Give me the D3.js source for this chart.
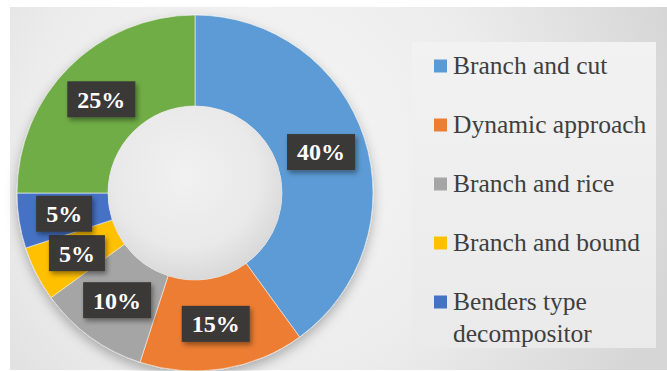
<!DOCTYPE html>
<html>
<head>
<meta charset="utf-8">
<script src="https://cdn.jsdelivr.net/npm/d3@7"></script>
<style>
  html, body { margin: 0; padding: 0; background: #ffffff; }
  svg { display: block; }
  .serif { font-family: "Liberation Serif", "DejaVu Serif", "Times New Roman", serif; }
</style>
</head>
<body>
<svg id="chart" width="667" height="371"></svg>
<script>
// Share of solution methods (percent)
const categories = ["Branch and cut", "Dynamic approach", "Branch and rice", "Branch and bound", "Benders type decompositor", "Other"];
const values = [40, 15, 10, 5, 5, 25];
const colors = ["#5b9bd5", "#ed7d31", "#a5a5a5", "#ffc000", "#4472c4", "#70ad47"];
// The legend box only holds the first five entries
const legendCount = 5;

const W = 667, H = 371;
const svg = d3.select("#chart");
const defs = svg.append("defs");

// Panel background: light grey with a soft bright glow behind the ring
const bg = defs.append("radialGradient").attr("id", "bgGrad")
  .attr("gradientUnits", "userSpaceOnUse")
  .attr("cx", 260).attr("cy", 150).attr("r", 430);
bg.append("stop").attr("offset", "0").attr("stop-color", "#f7f7f7");
bg.append("stop").attr("offset", "0.55").attr("stop-color", "#ececec");
bg.append("stop").attr("offset", "1").attr("stop-color", "#d6d6d6");

const legendGrad = defs.append("linearGradient").attr("id", "legGrad")
  .attr("x1", 0).attr("y1", 0).attr("x2", 0).attr("y2", 1);
legendGrad.append("stop").attr("offset", "0").attr("stop-color", "#f2f2f2");
legendGrad.append("stop").attr("offset", "1").attr("stop-color", "#eaeaea");

// Hole shading
const hole = defs.append("radialGradient").attr("id", "holeGrad")
  .attr("cx", "0.45").attr("cy", "0.4").attr("r", "0.6");
hole.append("stop").attr("offset", "0").attr("stop-color", "#f1f1f1");
hole.append("stop").attr("offset", "0.7").attr("stop-color", "#e9e9e9");
hole.append("stop").attr("offset", "1").attr("stop-color", "#d9d9d9");

// Soft shadows
const ringShadow = defs.append("filter").attr("id", "ringShadow")
  .attr("x", "-20%").attr("y", "-20%").attr("width", "140%").attr("height", "140%");
ringShadow.append("feDropShadow").attr("dx", 0).attr("dy", 5).attr("stdDeviation", 6)
  .attr("flood-color", "#000").attr("flood-opacity", 0.28);

const boxShadow = defs.append("filter").attr("id", "boxShadow")
  .attr("x", "-30%").attr("y", "-30%").attr("width", "170%").attr("height", "180%");
boxShadow.append("feDropShadow").attr("dx", 2).attr("dy", 3).attr("stdDeviation", 2.5)
  .attr("flood-color", "#000").attr("flood-opacity", 0.4);

// Panel
svg.append("rect").attr("x", 10).attr("y", 7).attr("width", W - 10).attr("height", 363)
  .attr("fill", "url(#bgGrad)");

// Legend panel
svg.append("rect").attr("x", 412).attr("y", 42).attr("width", 244).attr("height", 306)
  .attr("fill", "url(#legGrad)");

// Donut
const cx = 195, cy = 193;
const outerR = 178, innerR = 87;

const pie = d3.pie().sort(null).value(d => d.value);
const arcs = pie(categories.map((c, i) => ({ name: c, value: values[i], color: colors[i] })));

const arc = d3.arc().innerRadius(innerR).outerRadius(outerR);
const labelArc = d3.arc().innerRadius((innerR + outerR) / 2).outerRadius((innerR + outerR) / 2);

const g = svg.append("g").attr("transform", `translate(${cx},${cy})`);

const ring = g.append("g").attr("filter", "url(#ringShadow)");
ring.selectAll("path.slice")
  .data(arcs)
  .join("path")
  .attr("class", "slice")
  .attr("d", arc)
  .attr("fill", d => d.data.color)
  .attr("stroke", "#f4f4f4")
  .attr("stroke-width", 0.6);

g.append("circle").attr("r", innerR).attr("fill", "url(#holeGrad)");

// Percentage labels in dark boxes
const total = d3.sum(values);
const fmt = v => Math.round(v / total * 100) + "%";

const labels = g.selectAll("g.lbl")
  .data(arcs)
  .join("g")
  .attr("class", "lbl")
  .attr("transform", d => `translate(${labelArc.centroid(d)})`);

labels.each(function(d) {
  const sel = d3.select(this);
  const rect = sel.append("rect").attr("fill", "#3a3937").attr("filter", "url(#boxShadow)");
  const t = sel.append("text")
    .attr("class", "serif")
    .attr("text-anchor", "middle")
    .attr("dy", "0.35em")
    .attr("fill", "#ffffff")
    .style("font-weight", "bold")
    .style("font-size", "24px")
    .text(fmt(d.data.value));
  const w = t.node().getComputedTextLength();
  const bw = w + 20, bh = 36;
  rect.attr("x", -bw / 2).attr("y", -bh / 2).attr("width", bw).attr("height", bh);
});

// Legend
const legendY = d3.scalePoint().domain(d3.range(legendCount)).range([66, 302]);
const legend = svg.append("g");
const items = legend.selectAll("g.item")
  .data(categories.slice(0, legendCount))
  .join("g")
  .attr("class", "item")
  .attr("transform", (d, i) => `translate(434,${legendY(i)})`);

items.append("rect")
  .attr("x", 0).attr("y", -6.5).attr("width", 13).attr("height", 13)
  .attr("fill", (d, i) => colors[i]);

items.append("text")
  .attr("class", "serif")
  .attr("x", 19)
  .attr("y", 8)
  .attr("fill", "#3f3f3f")
  .style("font-size", "25.5px")
  .each(function(d) {
    // wrap long names onto a second line
    const el = d3.select(this);
    const words = d.split(" ");
    const maxW = 200;
    let line = [];
    let tspan = el.append("tspan").attr("x", 19).attr("dy", 0);
    words.forEach(wd => {
      line.push(wd);
      tspan.text(line.join(" "));
      if (tspan.node().getComputedTextLength() > maxW && line.length > 1) {
        line.pop();
        tspan.text(line.join(" "));
        line = [wd];
        tspan = el.append("tspan").attr("x", 19).attr("dy", 32).text(wd);
      }
    });
  });
</script>
</body>
</html>
